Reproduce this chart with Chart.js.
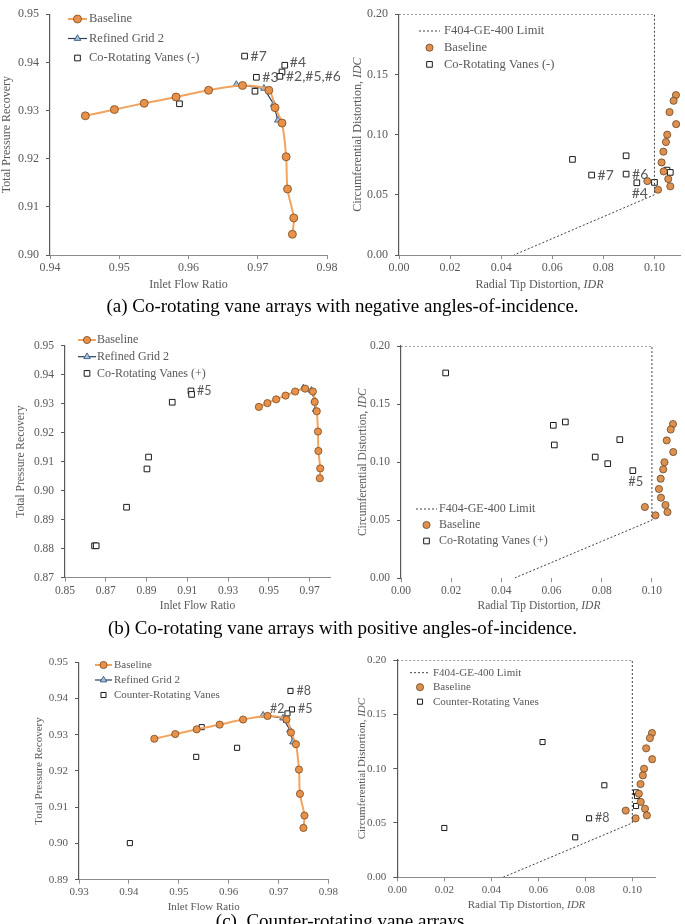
<!DOCTYPE html>
<html>
<head>
<meta charset="utf-8">
<script src="https://cdn.jsdelivr.net/npm/chart.js@4.4.1/dist/chart.umd.min.js"></script>
<style>
  body { margin: 0; width: 685px; height: 924px; overflow: hidden; background: #fff; position: relative; }
  canvas { position: absolute; }
  .cap { position: absolute; left: 0; width: 685px; text-align: center; font-family: 'Liberation Serif', serif; font-size: 19px; color: #000; line-height: 22px; }
</style>
</head>
<body>
<canvas id="aL"></canvas>
<canvas id="aR"></canvas>
<canvas id="bL"></canvas>
<canvas id="bR"></canvas>
<canvas id="cL"></canvas>
<canvas id="cR"></canvas>
<div class="cap" style="top:295px">(a) Co-rotating vane arrays with negative angles-of-incidence.</div>
<div class="cap" style="top:617px">(b) Co-rotating vane arrays with positive angles-of-incidence.</div>
<div class="cap" style="top:910px">(c)&nbsp; Counter-rotating vane arrays.</div>
<script>
// ---- data ----
const baseFlow = [0.9451, 0.9493, 0.9536, 0.9582, 0.9629, 0.9678, 0.9716, 0.9725, 0.9735, 0.9741, 0.9743, 0.9752, 0.9750];
const basePR   = [0.9289, 0.9302, 0.9315, 0.9328, 0.9342, 0.9352, 0.9342, 0.9306, 0.9274, 0.9204, 0.9137, 0.9077, 0.9043];
const gridFlow = [0.9669, 0.9709, 0.9723, 0.9729];
const gridPR   = [0.9354, 0.9346, 0.9313, 0.9280];

const baseIDR = [0.1084, 0.1075, 0.1059, 0.1085, 0.1050, 0.1045, 0.1035, 0.1028, 0.1036, 0.1054, 0.1062, 0.0972, 0.1014];
const baseIDC = [0.1328, 0.1281, 0.1187, 0.1087, 0.0999, 0.0938, 0.0858, 0.0769, 0.0694, 0.0631, 0.0570, 0.0614, 0.0542];

const limitIDR = [0, 0.10, 0.10, 0.045];
const limitIDC = [0.20, 0.20, 0.05, 0];

// (a) co-rotating, negative incidence
const coNegFlow = [0.9681, 0.9698, 0.9696, 0.9587, 0.9739, 0.9735, 0.9732];
const coNegPR   = [0.9413, 0.9369, 0.9340, 0.9314, 0.9394, 0.9380, 0.9371];
const coNegTags = ['#7', '#3', '', '', '#4', '', '#2,#5,#6'];
const coNegIDR  = [0.0679, 0.0754, 0.0889, 0.0889, 0.0931, 0.1000, 0.1049, 0.1062];
const coNegIDC  = [0.0794, 0.0664, 0.0824, 0.0672, 0.0600, 0.0603, 0.0705, 0.0686];
const coNegDistTags = ['', '#7', '', '#6', '#4', '', '', ''];

// (b) co-rotating, positive incidence
const coPosFlow = [0.9118, 0.9121, 0.9026, 0.8910, 0.8902, 0.8802, 0.8645, 0.8653];
const coPosPR   = [0.9344, 0.9332, 0.9305, 0.9116, 0.9075, 0.8943, 0.8810, 0.8810];
const coPosTags = ['#5', '', '', '', '', '', '', ''];
const coPosIDR  = [0.0178, 0.0607, 0.0655, 0.0611, 0.0774, 0.0824, 0.0872, 0.0924];
const coPosIDC  = [0.1768, 0.1317, 0.1346, 0.1148, 0.1044, 0.0987, 0.1194, 0.0927];
const coPosDistTags = ['', '', '', '', '', '', '', '#5'];

// (c) counter-rotating
const ctrFlow = [0.9724, 0.9727, 0.9718, 0.9715, 0.9546, 0.9535, 0.9617, 0.9402];
const ctrPR   = [0.9421, 0.9370, 0.9359, 0.9341, 0.9321, 0.9239, 0.9264, 0.9001];
const ctrTags = ['#8', '#5', '#2', '', '', '', '', ''];
const ctrIDR  = [0.0200, 0.0618, 0.0757, 0.0816, 0.0881, 0.1016, 0.1020, 0.1016];
const ctrIDC  = [0.0454, 0.1245, 0.0368, 0.0543, 0.0847, 0.0782, 0.0748, 0.0656];
const ctrDistTags = ['', '', '', '#8', '', '', '', ''];

// tick labels
const aFlowTicks = [0.94, 0.95, 0.96, 0.97, 0.98];
const aPRTicks   = [0.90, 0.91, 0.92, 0.93, 0.94, 0.95];
const bFlowTicks = [0.85, 0.87, 0.89, 0.91, 0.93, 0.95, 0.97];
const bPRTicks   = [0.87, 0.88, 0.89, 0.90, 0.91, 0.92, 0.93, 0.94, 0.95];
const cFlowTicks = [0.93, 0.94, 0.95, 0.96, 0.97, 0.98];
const cPRTicks   = [0.89, 0.90, 0.91, 0.92, 0.93, 0.94, 0.95];
const idrTicks   = [0.00, 0.02, 0.04, 0.06, 0.08, 0.10];
const idcTicks   = [0.00, 0.05, 0.10, 0.15, 0.20];

const GREY = '#595959';
const SERIF = "'Liberation Serif', 'Times New Roman', serif";
Chart.defaults.font.family = SERIF;
Chart.defaults.color = GREY;

const pts = (xs, ys) => xs.map((x, i) => ({x: x, y: ys[i]}));

// legend drawn inside the plot area, Excel style
const plotLegend = {
  id: 'plotLegend',
  afterDatasetsDraw(chart, args, o) {
    const ctx = chart.ctx;
    ctx.save();
    ctx.font = o.size + 'px ' + SERIF;
    ctx.textBaseline = 'middle';
    chart.data.datasets.forEach((ds, i) => {
      const y = o.y + i * o.dy;
      const x0 = o.x, x1 = o.x + o.w;
      if (ds.showLine) {
        ctx.strokeStyle = ds.borderColor;
        ctx.lineWidth = ds.borderWidth;
        ctx.setLineDash(ds.borderDash || []);
        ctx.beginPath(); ctx.moveTo(x0, y); ctx.lineTo(x1, y); ctx.stroke();
        ctx.setLineDash([]);
      }
      if (ds.pointRadius > 0) {
        ctx.fillStyle = ds.pointBackgroundColor;
        ctx.strokeStyle = ds.pointBorderColor;
        ctx.lineWidth = ds.pointBorderWidth;
        Chart.helpers.drawPoint(ctx, {pointStyle: ds.pointStyle, radius: ds.pointRadius, rotation: 0, borderWidth: ds.pointBorderWidth}, (x0 + x1) / 2, y);
      }
      ctx.fillStyle = GREY;
      ctx.textAlign = 'left';
      ctx.fillText(ds.label, o.tx, y);
    });
    ctx.restore();
  }
};

// "#n" point tags
const pointTags = {
  id: 'pointTags',
  afterDatasetsDraw(chart, args, o) {
    const ctx = chart.ctx;
    ctx.save();
    ctx.font = o.size + "px Lato, 'Liberation Sans', sans-serif";
    ctx.fillStyle = GREY;
    ctx.textBaseline = 'middle';
    chart.data.datasets.forEach((ds, i) => {
      if (!ds.tags) return;
      const meta = chart.getDatasetMeta(i);
      ds.tags.forEach((t, j) => {
        if (!t) return;
        const p = meta.data[j];
        const side = (ds.tagSide && ds.tagSide[j]) || 'r';
        if (side === 'b') { ctx.textAlign = 'center'; ctx.fillText(t, p.x + 3, p.y + 11); }
        else if (side === 'l') { ctx.textAlign = 'right'; ctx.fillText(t, p.x - 3, p.y - 4); }
        else if (side === 'ru') { ctx.textAlign = 'left'; ctx.fillText(t, p.x + 5, p.y - 3); }
        else { ctx.textAlign = 'left'; ctx.fillText(t, p.x + 6, p.y); }
      });
    });
    ctx.restore();
  }
};

// axis titles with italic parts (IDR / IDC)
const axisTitles = {
  id: 'axisTitles',
  afterDraw(chart, args, o) {
    const ctx = chart.ctx, a = chart.chartArea;
    const fontOf = p => (p[1] ? 'italic ' : '') + o.size + 'px ' + SERIF;
    const draw = (parts, cx, cy, rot) => {
      let w = 0;
      parts.forEach(p => { ctx.font = fontOf(p); w += ctx.measureText(p[0]).width; });
      ctx.save();
      ctx.translate(cx, cy); ctx.rotate(rot);
      ctx.fillStyle = GREY; ctx.textBaseline = 'middle'; ctx.textAlign = 'left';
      let x = -w / 2;
      parts.forEach(p => { ctx.font = fontOf(p); ctx.fillText(p[0], x, 0); x += ctx.measureText(p[0]).width; });
      ctx.restore();
    };
    draw(o.x, (a.left + a.right) / 2, o.xy, 0);
    draw(o.y, o.yx, (a.top + a.bottom) / 2, -Math.PI / 2);
  }
};

function baseLine(label, xs, ys, r) {
  return {label: label, data: pts(xs, ys), showLine: true, borderColor: '#F2A35E', borderWidth: 2, tension: 0.3,
    pointStyle: 'circle', pointRadius: r, pointBackgroundColor: '#E8914A', pointBorderColor: '#7A4A20', pointBorderWidth: 0.8};
}
function gridLine(xs, ys) {
  return {label: 'Refined Grid 2', data: pts(xs, ys), showLine: true, borderColor: '#2E3D58', borderWidth: 1.2,
    pointStyle: 'triangle', pointRadius: 3.8, pointBackgroundColor: '#9DC3E6', pointBorderColor: '#2E4A6B', pointBorderWidth: 0.8};
}
function baseDots(xs, ys) {
  return {label: 'Baseline', data: pts(xs, ys), showLine: false,
    pointStyle: 'circle', pointRadius: 3.6, pointBackgroundColor: '#DC9150', pointBorderColor: '#5A3A1A', pointBorderWidth: 0.7};
}
function squares(label, xs, ys, tags, side, r) {
  return {label: label, data: pts(xs, ys), showLine: false, tags: tags, tagSide: side,
    pointStyle: 'rect', pointRadius: r, pointBackgroundColor: '#FFFFFF', pointBorderColor: '#1A1A1A', pointBorderWidth: 1};
}
function limitLine() {
  return {label: 'F404-GE-400 Limit', data: pts(limitIDR, limitIDC), showLine: true, borderColor: '#404040',
    borderWidth: 1, borderDash: [2, 2], pointRadius: 0, pointStyle: 'circle'};
}

// g: page geometry of canvas and plot area; s: axes setup
function panel(id, g, s, datasets, leg, tagSize) {
  const cv = document.getElementById(id);
  cv.width = g.cw; cv.height = g.ch;
  cv.style.left = g.cx + 'px'; cv.style.top = g.cy + 'px';
  const padLeft = 2;
  const yW = g.L - g.cx - padLeft;
  const xH = g.cy + g.ch - g.B;
  const axisX = {
    type: 'linear', min: s.xMin, max: s.xMax,
    afterBuildTicks: sc => { sc.ticks = s.xTicks.map(v => ({value: v})); },
    afterFit: sc => { sc.height = xH; },
    ticks: {callback: v => v.toFixed(2), font: {size: s.fs}, color: GREY, padding: 2, maxRotation: 0, autoSkip: false},
    grid: {drawOnChartArea: false, tickLength: 4, color: '#8C8C8C'},
    border: {display: s.xLine !== false, color: '#8C8C8C', width: 1}
  };
  const axisY = {
    type: 'linear', min: s.yMin, max: s.yMax,
    afterBuildTicks: sc => { sc.ticks = s.yTicks.map(v => ({value: v})); },
    afterFit: sc => { sc.width = yW; },
    ticks: {callback: v => v.toFixed(2), font: {size: s.fs}, color: GREY, padding: 7, autoSkip: false},
    grid: {drawOnChartArea: false, tickLength: 4, color: '#595959'},
    border: {color: '#595959', width: 1.2}
  };
  return new Chart(cv, {
    type: 'scatter',
    data: {datasets: datasets},
    options: {
      responsive: false, animation: false,
      layout: {padding: {left: padLeft, top: g.T - g.cy, right: g.cx + g.cw - g.R, bottom: 0}},
      scales: {x: axisX, y: axisY},
      plugins: {
        legend: {display: false}, tooltip: {enabled: false},
        plotLegend: leg, pointTags: {size: tagSize},
        axisTitles: {x: s.xTitle, y: s.yTitle, size: s.fs, xy: g.xt - g.cy, yx: g.yt - g.cx}
      }
    },
    plugins: [plotLegend, pointTags, axisTitles]
  });
}

const flowTitle = [['Inlet Flow Ratio', false]];
const prTitle = [['Total Pressure Recovery', false]];
const idrTitle = [['Radial Tip Distortion, ', false], ['IDR', true]];
const idcTitle = [['Circumferential Distortion, ', false], ['IDC', true]];

// (a)
panel('aL', {cx: 0, cy: 0, cw: 340, ch: 296, L: 50, T: 14, R: 327, B: 255, yt: 6.5, xt: 285},
  {xMin: 0.94, xMax: 0.98, xTicks: aFlowTicks, yMin: 0.90, yMax: 0.95, yTicks: aPRTicks, fs: 12, xTitle: flowTitle, yTitle: prTitle},
  [baseLine('Baseline', baseFlow, basePR, 4), gridLine(gridFlow, gridPR),
   squares('Co-Rotating Vanes (-)', coNegFlow, coNegPR, coNegTags, ['r', 'r', '', '', 'ru', '', 'r'], 4)],
  {x: 68, w: 19, tx: 89, y: 19, dy: 19.5, size: 12.5}, 14);

panel('aR', {cx: 340, cy: 0, cw: 345, ch: 296, L: 399, T: 14, R: 684, B: 255, yt: 358, xt: 285},
  {xMin: 0, xMax: 0.11, xTicks: idrTicks, yMin: 0, yMax: 0.20, yTicks: idcTicks, fs: 12, xTitle: idrTitle, yTitle: idcTitle},
  [limitLine(), baseDots(baseIDR, baseIDC),
   squares('Co-Rotating Vanes (-)', coNegIDR, coNegIDC, coNegDistTags, ['', 'r', '', 'r', 'b', '', '', ''], 4)],
  {x: 79, w: 21, tx: 104, y: 31, dy: 16.7, size: 12.5}, 14);

// (b)
panel('bL', {cx: 0, cy: 318, cw: 340, ch: 300, L: 65, T: 345.7, R: 330, B: 577.7, yt: 21, xt: 606},
  {xMin: 0.85, xMax: 0.98, xTicks: bFlowTicks, yMin: 0.87, yMax: 0.95, yTicks: bPRTicks, fs: 11.5, xTitle: flowTitle, yTitle: prTitle},
  [baseLine('Baseline', baseFlow, basePR, 3.6), gridLine(gridFlow, gridPR),
   squares('Co-Rotating Vanes (+)', coPosFlow, coPosPR, coPosTags, ['r'], 4)],
  {x: 78, w: 18, tx: 97, y: 22, dy: 16.7, size: 12}, 12.5);

panel('bR', {cx: 340, cy: 318, cw: 345, ch: 300, L: 401, T: 346, R: 677, B: 578.3, yt: 363, xt: 606},
  {xMin: 0, xMax: 0.11, xTicks: idrTicks, yMin: 0, yMax: 0.20, yTicks: idcTicks, fs: 11.5, xTitle: idrTitle, yTitle: idcTitle, xLine: false},
  [limitLine(), baseDots(baseIDR, baseIDC),
   squares('Co-Rotating Vanes (+)', coPosIDR, coPosIDC, coPosDistTags, ['', '', '', '', '', '', '', 'b'], 4)],
  {x: 76, w: 21, tx: 99, y: 191, dy: 16, size: 12}, 13);

// (c)
panel('cL', {cx: 0, cy: 640, cw: 340, ch: 275, L: 79, T: 662.3, R: 330, B: 879.7, yt: 39, xt: 906.7},
  {xMin: 0.93, xMax: 0.98, xTicks: cFlowTicks, yMin: 0.89, yMax: 0.95, yTicks: cPRTicks, fs: 11, xTitle: flowTitle, yTitle: prTitle},
  [baseLine('Baseline', baseFlow, basePR, 3.6), gridLine(gridFlow, gridPR),
   squares('Counter-Rotating Vanes', ctrFlow, ctrPR, ctrTags, ['r', 'r', 'l'], 3.6)],
  {x: 95, w: 17, tx: 114, y: 25, dy: 15, size: 11}, 12.5);

panel('cR', {cx: 340, cy: 640, cw: 345, ch: 275, L: 397.3, T: 660, R: 655.8, B: 877.3, yt: 362, xt: 905},
  {xMin: 0, xMax: 0.11, xTicks: idrTicks, yMin: 0, yMax: 0.20, yTicks: idcTicks, fs: 11, xTitle: idrTitle, yTitle: idcTitle},
  [limitLine(), baseDots(baseIDR, baseIDC),
   squares('Counter-Rotating Vanes', ctrIDR, ctrIDC, ctrDistTags, ['', '', '', 'r'], 3.6)],
  {x: 70, w: 20, tx: 93, y: 32.7, dy: 14.5, size: 11}, 12.5);
</script>
</body>
</html>
